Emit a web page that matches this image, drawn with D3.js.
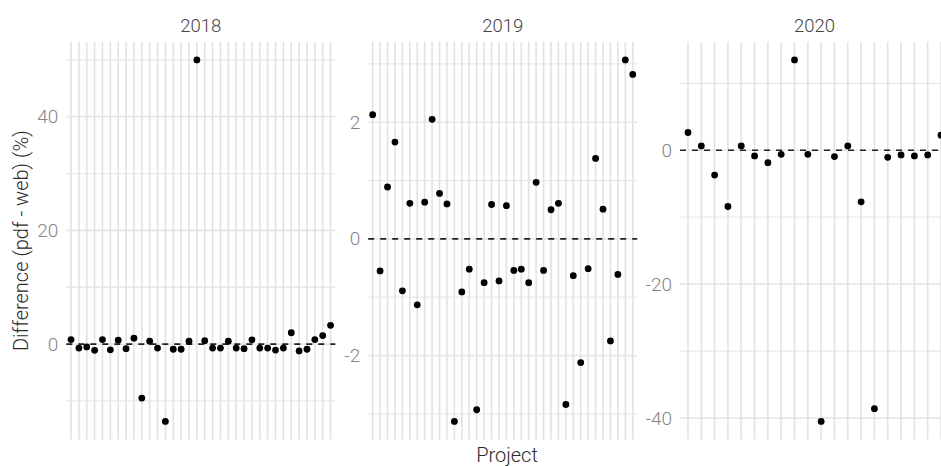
<!DOCTYPE html>
<head>
  <meta charset="utf-8">
  <title>Difference pdf - web by project</title>
  <script src="https://d3js.org/d3.v7.min.js"></script>
  <style>
    body { margin: 0; background: #fff; }
    text { font-family: Roboto, "Noto Sans", sans-serif; font-weight: 300; }
  </style>
</head>
<body>
<div id="chart"></div>
<script>

// values, one point per project, in order
var years = ["2018", "2019", "2020"];

var values2018 = [0.8, -0.7, -0.5, -1.1, 0.8, -1.0, 0.7, -0.8, 1.05, -9.5,
  0.5, -0.7, -13.6, -0.9, -0.9, 0.5, 50.0, 0.6, -0.7, -0.7,
  0.5, -0.7, -0.8, 0.75, -0.7, -0.7, -1.05, -0.7, 2.0, -1.2,
  -0.9, 0.8, 1.5, 3.3];

var values2019 = [2.13, -0.55, 0.89, 1.66, -0.89, 0.61, -1.13, 0.63, 2.05, 0.78,
  0.6, -3.13, -0.91, -0.52, -2.93, -0.75, 0.59, -0.72, 0.57, -0.54,
  -0.52, -0.75, 0.97, -0.54, 0.5, 0.61, -2.84, -0.63, -2.12, -0.51,
  1.38, 0.51, -1.75, -0.61, 3.07, 2.82];

var values2020 = [2.65, 0.65, -3.7, -8.4, 0.65, -0.85, -1.85, -0.6, 13.5, -0.6,
  -40.5, -0.95, 0.65, -7.7, -38.6, -1.05, -0.7, -0.85, -0.7, 2.25];

// tick labels per panel
var majorTicks = { "2018": [0, 20, 40], "2019": [-2, 0, 2], "2020": [-40, -20, 0] };
var minorTicks = { "2018": [-10, 10, 30, 50], "2019": [-3, -1, 1, 3], "2020": [-30, -10, 10] };

var series = { "2018": values2018, "2019": values2019, "2020": values2020 };

var W = 941, H = 466;
var panelLeft = { "2018": 66.3, "2019": 368.2, "2020": 680 };
var panelW = 269, panelTop = 41.8, panelBottom = 439.5;

var svg = d3.select("#chart").append("svg")
  .attr("width", W).attr("height", H);

years.forEach(function(yr) {
  var vals = series[yr];
  var projects = vals.map(function(d, i) { return yr + "-" + (i + 1); });
  var data = vals.map(function(v, i) { return { project: projects[i], value: v }; });

  var x = d3.scalePoint()
    .domain(projects)
    .range([panelLeft[yr], panelLeft[yr] + panelW])
    .padding(0.6);

  // ggplot style 5% expansion
  var ext = d3.extent(vals);
  var pad = (ext[1] - ext[0]) * 0.05;
  var y = d3.scaleLinear()
    .domain([ext[0] - pad, ext[1] + pad])
    .range([panelBottom, panelTop]);

  var g = svg.append("g");

  // minor + major horizontal grid
  g.selectAll(".hgrid")
    .data(minorTicks[yr].concat(majorTicks[yr]))
    .enter().append("line")
      .attr("x1", panelLeft[yr]).attr("x2", panelLeft[yr] + panelW)
      .attr("y1", function(d) { return y(d); })
      .attr("y2", function(d) { return y(d); })
      .attr("stroke", "#e8e8e8")
      .attr("stroke-width", function(d) { return majorTicks[yr].indexOf(d) >= 0 ? 1.7 : 1.3; });

  // vertical grid, one per project
  g.selectAll(".vgrid")
    .data(projects)
    .enter().append("line")
      .attr("x1", function(d) { return x(d); })
      .attr("x2", function(d) { return x(d); })
      .attr("y1", panelTop).attr("y2", panelBottom)
      .attr("stroke", "#e2e2e2")
      .attr("stroke-width", 1.6);

  // y axis labels
  var yAxis = d3.axisLeft(y)
    .tickValues(majorTicks[yr])
    .tickFormat(function(d) { return String(d); })
    .tickSize(0).tickPadding(8);
  var ax = g.append("g")
    .attr("transform", "translate(" + panelLeft[yr] + ",0)")
    .call(yAxis);
  ax.select(".domain").remove();
  ax.selectAll("text")
    .style("font-family", "Roboto, sans-serif")
    .style("font-weight", 300)
    .style("font-size", "19px")
    .attr("fill", "#858585");

  // zero line
  g.append("line")
    .attr("x1", panelLeft[yr]).attr("x2", panelLeft[yr] + panelW)
    .attr("y1", y(0)).attr("y2", y(0))
    .attr("stroke", "#222")
    .attr("stroke-width", 1.6)
    .attr("stroke-dasharray", "6,6");

  // points
  g.selectAll(".dot")
    .data(data)
    .enter().append("circle")
      .attr("cx", function(d) { return x(d.project); })
      .attr("cy", function(d) { return y(d.value); })
      .attr("r", 3.4)
      .attr("fill", "#000");

  // strip title
  g.append("text")
    .attr("x", panelLeft[yr] + panelW / 2)
    .attr("y", 31.5)
    .attr("text-anchor", "middle")
    .style("font-size", "18.5px")
    .attr("fill", "#444")
    .text(yr);
});

// axis titles
svg.append("text")
  .attr("transform", "translate(28," + ((panelTop + panelBottom) / 2) + ") rotate(-90)")
  .attr("text-anchor", "middle")
  .style("font-size", "20px")
  .attr("fill", "#2b2b2b")
  .text("Difference (pdf - web) (%)");

svg.append("text")
  .attr("x", 507)
  .attr("y", 461.5)
  .attr("text-anchor", "middle")
  .style("font-size", "20px")
  .attr("fill", "#2b2b2b")
  .text("Project");

</script>
</body>
